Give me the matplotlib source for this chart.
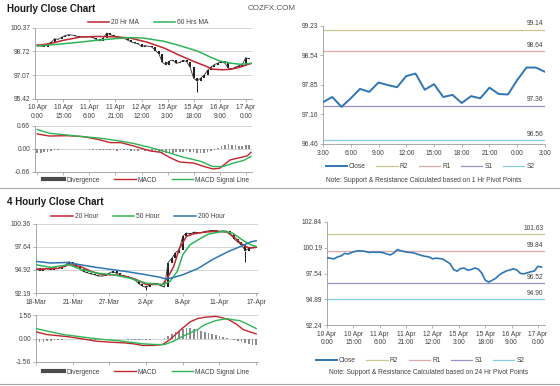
import numpy as np
import matplotlib
matplotlib.use('Agg')
import matplotlib.pyplot as plt
from matplotlib.lines import Line2D

plt.rcParams['font.family'] = ['Liberation Sans', 'DejaVu Sans']

# ---------------- data ----------------
# hourly closes (10 Apr 0:00 -> 17 Apr), one value every 2 hours
hourly_close = [99.18, 99.10, 99.05, 99.25, 99.35, 99.60, 99.55, 99.70, 99.82, 99.88,
                99.86, 99.80, 99.70, 99.75, 99.72, 99.74, 99.68, 99.55, 99.45, 99.65,
                100.00, 99.88, 99.80, 99.72, 99.70, 99.62, 99.50, 99.38, 99.30, 99.25,
                99.05, 99.12, 99.08, 99.02, 98.78, 98.55, 97.95, 97.78, 98.05, 98.10,
                97.88, 97.95, 98.10, 98.00, 97.60, 96.85, 96.65, 96.85, 97.05, 97.40,
                97.62, 97.80, 97.90, 98.02, 97.90, 97.55, 97.50, 97.62, 97.72, 97.80,
                98.28, 98.20]
hourly_x = np.arange(0, 2 * len(hourly_close), 2)
hourly_spike_x = [92]
hourly_spike_low = [95.88]

ma20_x = [0, 7, 15, 25, 34, 44, 53, 63, 73, 82, 90, 96, 101, 106, 111, 117, 123]
ma20 = [99.14, 99.25, 99.49, 99.72, 99.76, 99.74, 99.66, 99.37, 98.95, 98.44,
        98.02, 97.74, 97.48, 97.44, 97.46, 97.63, 97.88]
ma60_x = [0, 15, 25, 34, 44, 53, 61, 73, 82, 92, 100, 105, 111, 117, 123]
ma60 = [99.09, 99.25, 99.37, 99.49, 99.60, 99.68, 99.65, 99.42, 99.12, 98.75,
        98.30, 98.05, 97.90, 97.82, 97.88]

h_macd_x = [0, 7, 17, 27, 36, 42, 48, 55, 65, 71, 77, 82, 90, 96, 101, 105, 111, 117, 121, 123]
h_macd = [0.43, 0.37, 0.38, 0.35, 0.26, 0.18, 0.18, 0.09, -0.06, -0.10, -0.27, -0.38,
          -0.41, -0.51, -0.58, -0.56, -0.32, -0.25, -0.20, -0.10]
h_signal_x = [0, 7, 17, 27, 36, 46, 55, 65, 75, 84, 94, 101, 107, 113, 119, 123]
h_signal = [0.56, 0.45, 0.40, 0.35, 0.31, 0.24, 0.16, 0.04, -0.10, -0.24, -0.36,
            -0.51, -0.51, -0.41, -0.33, -0.22]
h_div = [-0.12, -0.12, -0.10, -0.08, -0.05, -0.03, -0.02, -0.01, 0.0, 0.01,
         0.01, 0.0, -0.01, -0.01, -0.01, -0.02, -0.03, -0.03, -0.04, -0.03,
         -0.02, -0.03, -0.04, -0.05, -0.04, -0.03, -0.04, -0.05, -0.06, -0.05,
         -0.04, -0.05, -0.06, -0.07, -0.08, -0.09, -0.12, -0.13, -0.12, -0.11,
         -0.10, -0.09, -0.08, -0.07, -0.08, -0.10, -0.12, -0.13, -0.12, -0.10,
         -0.07, -0.03, 0.02, 0.08, 0.12, 0.13, 0.12, 0.10, 0.09, 0.08,
         0.10, 0.11]

hourly_ticks = ['10 Apr\n0:00', '10 Apr\n15:00', '11 Apr\n6:00', '11 Apr\n21:00',
                '12 Apr\n12:00', '15 Apr\n3:00', '15 Apr\n18:00', '16 Apr\n9:00',
                '17 Apr\n0:00']

# 1 hour pivot chart (last 25 hours)
pivot1_close = [97.44, 97.56, 97.33, 97.53, 97.75, 97.68, 97.90, 97.84, 97.79, 98.05,
                98.11, 97.73, 97.86, 97.56, 97.61, 97.42, 97.58, 97.53, 97.78, 97.63,
                97.62, 97.96, 98.25, 98.25, 98.15]
pivot1_ticks = ['3:00', '6:00', '9:00', '12:00', '15:00', '18:00', '21:00', '0:00', '3:00']
pivot1_levels = [99.14, 98.64, 97.36, 96.56]   # R2, R1, S1, S2
pivot24_levels = [101.63, 99.84, 96.52, 94.90]

# 4 hourly closes, one value every 2 bars
h4_close = [95.14, 94.85, 95.05, 95.10, 94.95, 95.20, 95.08, 95.25, 95.50, 95.90,
            95.65, 95.30, 95.00, 94.72, 94.58, 94.45, 94.35, 94.20, 94.18, 94.27,
            94.55, 94.75, 94.50, 94.35, 94.18, 94.05, 93.90, 93.70, 93.30, 93.00,
            92.85, 93.15, 93.35, 93.30, 93.05, 92.90, 95.80, 96.30, 96.95, 97.30,
            98.90, 99.30, 99.15, 99.40, 99.35, 99.30, 99.48, 99.55, 99.60, 99.58,
            99.50, 99.55, 99.52, 99.15, 98.60, 98.20, 97.90, 97.20, 97.50, 97.60,
            97.70]
h4_x = np.arange(0, 2 * len(h4_close), 2)
h4_spike_x = [60, 114]
h4_spike_low = [92.55, 95.90]

h4_ma20_x = [0, 6, 12, 18, 24, 30, 36, 42, 48, 54, 60, 66, 69, 72, 75, 78, 82, 86,
             92, 98, 104, 108, 111, 114, 117, 120]
h4_ma20 = [95.0, 95.05, 95.1, 95.55, 95.35, 94.75, 94.35, 94.35, 94.2, 93.85, 93.2,
           93.2, 93.2, 94.1, 95.3, 97.4, 98.9, 99.2, 99.4, 99.5, 99.4, 98.8, 98.2,
           97.7, 97.5, 97.6]
h4_ma50_x = [0, 8, 18, 25, 33, 42, 51, 60, 69, 73, 77, 80, 84, 90, 94, 102, 107,
             113, 117, 120]
h4_ma50 = [95.54, 95.22, 95.54, 94.95, 94.55, 94.35, 93.96, 93.36, 93.17, 93.56,
           94.75, 96.72, 97.91, 98.70, 99.17, 99.49, 99.29, 98.40, 97.90, 97.70]
h4_ma200_x = [0, 8, 17, 24, 33, 42, 51, 60, 67, 71, 75, 80, 88, 96, 105, 113, 117, 120]
h4_ma200 = [95.93, 95.74, 95.81, 95.54, 95.22, 94.95, 94.67, 94.35, 94.08, 93.84,
            94.04, 94.35, 95.06, 96.13, 97.12, 97.83, 98.23, 98.38]

h4_macd_x = [0, 6, 11, 18, 25, 33, 40, 48, 53, 58, 64, 69, 73, 76, 80, 84, 88, 92,
             98, 102, 105, 109, 113, 117, 120]
h4_macd = [0.44, 0.26, 0.20, 0.11, -0.02, -0.18, -0.24, -0.29, -0.35, -0.46, -0.46,
           -0.40, -0.07, 0.26, 0.70, 1.10, 1.32, 1.41, 1.47, 1.36, 1.25, 0.97, 0.59,
           0.42, 0.31]
h4_signal_x = [0, 8, 15, 22, 29, 37, 44, 51, 58, 65, 70, 75, 80, 88, 92, 98, 104,
               107, 111, 115, 120]
h4_signal = [0.66, 0.44, 0.26, 0.15, 0.04, -0.07, -0.13, -0.24, -0.35, -0.40, -0.40,
             -0.18, 0.15, 0.59, 0.92, 1.19, 1.32, 1.25, 1.19, 0.97, 0.66]
h4_div = [-0.22, -0.22, -0.20, -0.18, -0.16, -0.13, -0.10, -0.07, -0.04, -0.02,
          0.00, 0.00, -0.02, -0.04, -0.06, -0.07, -0.08, -0.08, -0.07, -0.06,
          -0.06, -0.05, -0.05, -0.06, -0.06, -0.07, -0.08, -0.09, -0.10, -0.10,
          -0.09, -0.07, -0.05, -0.03, 0.00, 0.05, 0.15, 0.28, 0.40, 0.52,
          0.60, 0.68, 0.70, 0.66, 0.60, 0.52, 0.45, 0.38, 0.30, 0.22,
          0.15, 0.08, 0.02, -0.04, -0.10, -0.18, -0.25, -0.32, -0.38, -0.40,
          -0.40]
h4_ticks = ['18-Mar', '21-Mar', '27-Mar', '2-Apr', '8-Apr', '11-Apr', '17-Apr']

# ---------------- styling ----------------
W, H = 560, 386
FS = 4.8
RED = '#c0262d'
GREEN = '#2fb457'
BLUE = '#2e75b6'
LEVEL_COLORS = ['#c9c98c', '#e2a9a9', '#9a92c4', '#86cde0']
LEVEL_NAMES = ['R2', 'R1', 'S1', 'S2']
TXT = '#404040'

fig = plt.figure(figsize=(W / 100, H / 100), dpi=100)


def box(x0, y0, x1, y1):
    return fig.add_axes([x0 / W, 1 - y1 / H, (x1 - x0) / W, (y1 - y0) / H])


def style(ax, grid=True):
    ax.spines['top'].set_visible(False)
    ax.spines['right'].set_visible(False)
    for s in ['left', 'bottom']:
        ax.spines[s].set_color('#9a9a9a')
        ax.spines[s].set_linewidth(0.6)
    ax.tick_params(labelsize=FS, length=2, width=0.5, color='#9a9a9a', pad=1.5,
                   labelcolor=TXT)
    if grid:
        ax.yaxis.grid(True, color='#c4c4c4', lw=0.5)
    ax.set_axisbelow(True)


def candles(ax, x, c, sx, slow):
    # candle bodies run from the previous close to this close
    c = np.array(c)
    ax.vlines(x[1:], np.minimum(c[:-1], c[1:]), np.maximum(c[:-1], c[1:]),
              color='#1a1a1a', lw=1.4, zorder=2)
    ax.plot(x, c, color='#333333', lw=0.6, zorder=2)
    for xi, lo in zip(sx, slow):
        ci = c[np.argmin(np.abs(np.array(x) - xi))]
        ax.vlines(xi, lo, ci, color='#1a1a1a', lw=0.7, zorder=2)


def legend(handles, labels, cx, cy, spacing=2.2):
    fig.legend(handles, labels, loc='center', bbox_to_anchor=(cx / W, 1 - cy / H),
               ncol=len(handles), frameon=False, fontsize=FS, handlelength=3.2,
               handletextpad=0.3, columnspacing=spacing, labelcolor=TXT,
               borderpad=0, borderaxespad=0)


# ---------------- titles / header ----------------
fig.text(7 / W, 1 - 9 / H, 'Hourly Close Chart', fontsize=7, fontweight='bold',
         va='center', color='#1a1a1a')
fig.text(7 / W, 1 - 202 / H, '4 Hourly Close Chart', fontsize=7, fontweight='bold',
         va='center', color='#1a1a1a')
fig.text(248 / W, 1 - 9 / H, 'COZFX.COM', fontsize=5.8, va='center', color='#555555')
for yy in [188, 384]:
    fig.add_artist(Line2D([0, 1], [1 - yy / H, 1 - yy / H], color='#a8a8a8', lw=0.8))

# ---------------- hourly price ----------------
ax = box(35, 27.7, 252, 98.7)
style(ax)
candles(ax, hourly_x, hourly_close, hourly_spike_x, hourly_spike_low)
ax.plot(ma20_x, ma20, color=RED, lw=1.1, zorder=3)
ax.plot(ma60_x, ma60, color=GREEN, lw=1.1, zorder=3)
ax.set_ylim(95.42, 100.37)
ax.set_yticks(np.linspace(95.42, 100.37, 4))
ax.set_yticklabels(['95.42', '97.07', '98.72', '100.37'])
ax.set_xlim(-1.3, 123.6)
ax.set_xticks(np.arange(0, 121, 15))
ax.set_xticklabels(hourly_ticks, linespacing=1.3)
ax.tick_params(axis='x', pad=2)
legend([Line2D([], [], color=RED, lw=1.1), Line2D([], [], color=GREEN, lw=1.1)],
       ['20 Hr MA', '60 Hrs MA'], 148, 23)

# ---------------- hourly MACD ----------------
ax = box(35, 126, 252, 171.7)
style(ax)
ax.bar(hourly_x, h_div, width=0.9, color='#8c8c8c', zorder=1)
ax.plot(h_macd_x, h_macd, color=RED, lw=1.0, zorder=3)
ax.plot(h_signal_x, h_signal, color=GREEN, lw=1.0, zorder=3)
ax.set_ylim(-0.66, 0.66)
ax.set_yticks([-0.66, 0.0, 0.66])
ax.set_yticklabels(['-0.66', '0.00', '0.66'])
ax.set_xlim(-1.3, 123.6)
ax.set_xticks(np.arange(0, 121, 15))
ax.set_xticklabels([])
legend([Line2D([], [], color='#4a4a4a', lw=3), Line2D([], [], color=RED, lw=1.0),
        Line2D([], [], color=GREEN, lw=1.0)],
       ['Divergence', 'MACD', 'MACD Signal Line'], 146, 180)

# ---------------- 1 hr pivot ----------------
ax = box(323, 25.7, 545, 144)
style(ax, grid=False)
for lv, col in zip(pivot1_levels, LEVEL_COLORS):
    ax.axhline(lv, color=col, lw=0.9, zorder=1)
    ax.annotate(f'{lv:.2f}', (24, lv), xytext=(-1, 1.5), textcoords='offset points',
                ha='right', va='bottom', fontsize=FS, color=TXT)
ax.plot(np.arange(len(pivot1_close)), pivot1_close, color=BLUE, lw=1.4, zorder=3)
ax.set_ylim(96.46, 99.23)
ax.set_yticks(np.linspace(96.46, 99.23, 5))
ax.set_yticklabels(['96.46', '97.16', '97.85', '98.54', '99.23'])
ax.set_xlim(0, 24)
ax.set_xticks(np.arange(0, 25, 3))
ax.set_xticklabels(pivot1_ticks)
ax.tick_params(axis='x', pad=2)
lh = [Line2D([], [], color=BLUE, lw=1.4)] + [Line2D([], [], color=c, lw=0.9) for c in LEVEL_COLORS]
legend(lh, ['Close'] + LEVEL_NAMES, 430, 167, spacing=1.6)
fig.text(424 / W, 1 - 181 / H,
         'Note: Support & Resistance Calculated based on 1 Hr Pivot Points',
         fontsize=FS, ha='center', va='center', color=TXT)

# ---------------- 24 hr pivot ----------------
ax = box(327, 222, 545, 325)
style(ax, grid=False)
for lv, col in zip(pivot24_levels, LEVEL_COLORS):
    ax.axhline(lv, color=col, lw=0.9, zorder=1)
    ax.annotate(f'{lv:.2f}', (124, lv), xytext=(-1, 1.5), textcoords='offset points',
                ha='right', va='bottom', fontsize=FS, color=TXT)
ax.plot(hourly_x, hourly_close, color=BLUE, lw=1.2, zorder=3)
ax.set_ylim(92.24, 102.84)
ax.set_yticks(np.linspace(92.24, 102.84, 5))
ax.set_yticklabels(['92.24', '94.89', '97.54', '100.19', '102.84'])
ax.set_xlim(0, 124)
ax.set_xticks(np.arange(0, 121, 15))
ax.set_xticklabels(hourly_ticks, linespacing=1.3)
ax.tick_params(axis='x', pad=2)
legend(lh, ['Close'] + LEVEL_NAMES, 420, 361, spacing=1.6)
fig.text(429 / W, 1 - 373 / H,
         'Note: Support & Resistance Calculated based on 24 Hr Pivot Points',
         fontsize=FS, ha='center', va='center', color=TXT)

# ---------------- 4 hourly price ----------------
ax = box(36, 224, 258, 293)
style(ax)
candles(ax, h4_x, h4_close, h4_spike_x, h4_spike_low)
ax.plot(h4_ma20_x, h4_ma20, color=RED, lw=1.1, zorder=3)
ax.plot(h4_ma50_x, h4_ma50, color=GREEN, lw=1.1, zorder=3)
ax.plot(h4_ma200_x, h4_ma200, color=BLUE, lw=1.1, zorder=3)
ax.set_ylim(92.19, 100.36)
ax.set_yticks(np.linspace(92.19, 100.36, 4))
ax.set_yticklabels(['92.19', '94.92', '97.64', '100.36'])
ax.set_xlim(0, 121)
ax.set_xticks(np.arange(0, 121, 20))
ax.set_xticklabels(h4_ticks)
ax.tick_params(axis='x', pad=2)
legend([Line2D([], [], color=RED, lw=1.1), Line2D([], [], color=GREEN, lw=1.1),
        Line2D([], [], color=BLUE, lw=1.1)],
       ['20 Hour', '50 Hour', '200 Hour'], 138, 217)

# ---------------- 4 hourly MACD ----------------
ax = box(36, 315, 258, 362)
style(ax)
ax.bar(h4_x, h4_div, width=0.9, color='#8c8c8c', zorder=1)
ax.plot(h4_macd_x, h4_macd, color=RED, lw=1.0, zorder=3)
ax.plot(h4_signal_x, h4_signal, color=GREEN, lw=1.0, zorder=3)
ax.set_ylim(-1.56, 1.56)
ax.set_yticks([-1.56, 0.0, 1.56])
ax.set_yticklabels(['-1.56', '0.00', '1.56'])
ax.set_xlim(0, 121)
ax.set_xticks(np.arange(0, 121, 20))
ax.set_xticklabels([])
legend([Line2D([], [], color='#4a4a4a', lw=3), Line2D([], [], color=RED, lw=1.0),
        Line2D([], [], color=GREEN, lw=1.0)],
       ['Divergence', 'MACD', 'MACD Signal Line'], 146, 372)

fig.savefig('out.png', dpi=100)
